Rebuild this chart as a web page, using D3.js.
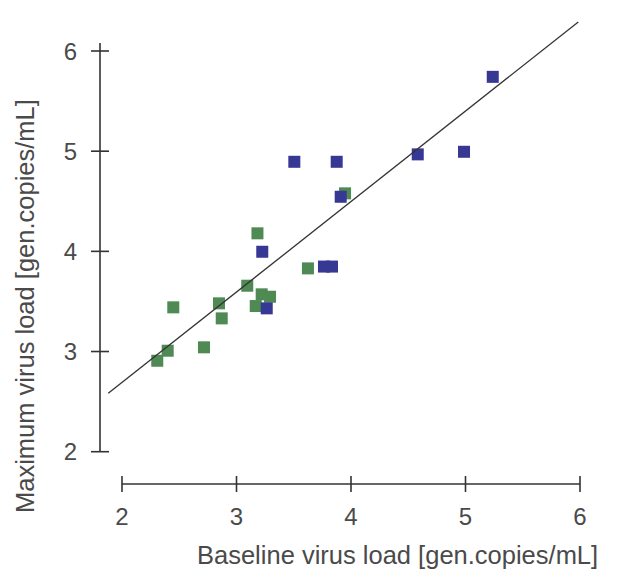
<!DOCTYPE html>
<html>
<head>
<meta charset="utf-8">
<script src="https://cdn.jsdelivr.net/npm/d3@7"></script>
<style>
  html, body { margin: 0; padding: 0; background: #ffffff; }
  svg { display: block; }
  text { font-family: "Liberation Sans", Arial, Helvetica, sans-serif; fill: #4a4a4a; }
</style>
</head>
<body>
<svg id="chart" width="620" height="585"></svg>
<script>
// Tick values
const xTicks = [2, 3, 4, 5, 6];
const yTicks = [2, 3, 4, 5, 6];

// Green series (baseline, maximum)
const greenX = [3.948, 3.183, 3.624, 3.094, 3.220, 3.293, 3.168, 2.448, 2.847, 2.871, 2.716, 2.399, 2.308];
const greenY = [4.579, 4.180, 3.830, 3.657, 3.571, 3.547, 3.454, 3.441, 3.481, 3.331, 3.042, 3.008, 2.908];

// Blue series (baseline, maximum)
const blueX = [5.238, 4.987, 4.583, 3.505, 3.875, 3.910, 3.225, 3.764, 3.834, 3.264];
const blueY = [5.742, 4.994, 4.968, 4.894, 4.894, 4.545, 3.996, 3.848, 3.848, 3.431];

// Regression line
const lineX = [1.88, 5.985];
const slope = 0.903;
const intercept = 0.885;

const xTitle = "Baseline virus load [gen.copies/mL]";
const yTitle = "Maximum virus load [gen.copies/mL]";

const svg = d3.select("#chart");
const x = d3.scaleLinear().domain([2, 6]).range([122, 580]);
const y = d3.scaleLinear().domain([2, 6]).range([451.7, 51]);

const axisColor = "#333333";

// Y axis
const yAx = x(2) - 22;
const gy = svg.append("g");
gy.append("line").attr("x1", yAx).attr("x2", yAx)
  .attr("y1", y(6.08)).attr("y2", y(2))
  .attr("stroke", axisColor).attr("stroke-width", 1.6);
gy.selectAll("line.t").data(yTicks).enter().append("line")
  .attr("class", "t")
  .attr("x1", yAx - 9).attr("x2", yAx + 9)
  .attr("y1", d => y(d)).attr("y2", d => y(d))
  .attr("stroke", axisColor).attr("stroke-width", 1.6);
gy.selectAll("text").data(yTicks).enter().append("text")
  .attr("x", 77).attr("y", d => y(d)).attr("dy", "0.36em")
  .attr("text-anchor", "end").attr("font-size", 24)
  .text(d => d);

// X axis
const xAy = 484;
const gx = svg.append("g");
gx.append("line").attr("x1", x(2)).attr("x2", x(6))
  .attr("y1", xAy).attr("y2", xAy)
  .attr("stroke", axisColor).attr("stroke-width", 1.6);
gx.selectAll("line.t").data(xTicks).enter().append("line")
  .attr("class", "t")
  .attr("x1", d => x(d)).attr("x2", d => x(d))
  .attr("y1", xAy - 8).attr("y2", xAy + 8)
  .attr("stroke", axisColor).attr("stroke-width", 1.6);
gx.selectAll("text").data(xTicks).enter().append("text")
  .attr("x", d => x(d)).attr("y", 525)
  .attr("text-anchor", "middle").attr("font-size", 24)
  .text(d => d);

// Titles
svg.append("text").attr("x", 197).attr("y", 564)
  .attr("font-size", 25.5).attr("text-anchor", "start")
  .text(xTitle);
svg.append("text")
  .attr("transform", "translate(34,513) rotate(-90)")
  .attr("font-size", 25.5).attr("text-anchor", "start")
  .text(yTitle);

// Points
const sz = 12;
const greenPts = greenX.map((d, i) => [d, greenY[i]]);
const bluePts = blueX.map((d, i) => [d, blueY[i]]);
svg.append("g").selectAll("rect").data(greenPts).enter().append("rect")
  .attr("x", d => x(d[0]) - sz / 2).attr("y", d => y(d[1]) - sz / 2)
  .attr("width", sz).attr("height", sz)
  .attr("fill", "#4f8a55");
svg.append("g").selectAll("rect").data(bluePts).enter().append("rect")
  .attr("x", d => x(d[0]) - sz / 2).attr("y", d => y(d[1]) - sz / 2)
  .attr("width", sz).attr("height", sz)
  .attr("fill", "#363894");

// Regression line
svg.append("line")
  .attr("x1", x(lineX[0])).attr("y1", y(intercept + slope * lineX[0]))
  .attr("x2", x(lineX[1])).attr("y2", y(intercept + slope * lineX[1]))
  .attr("stroke", "#333333").attr("stroke-width", 1.3);
</script>
</body>
</html>
